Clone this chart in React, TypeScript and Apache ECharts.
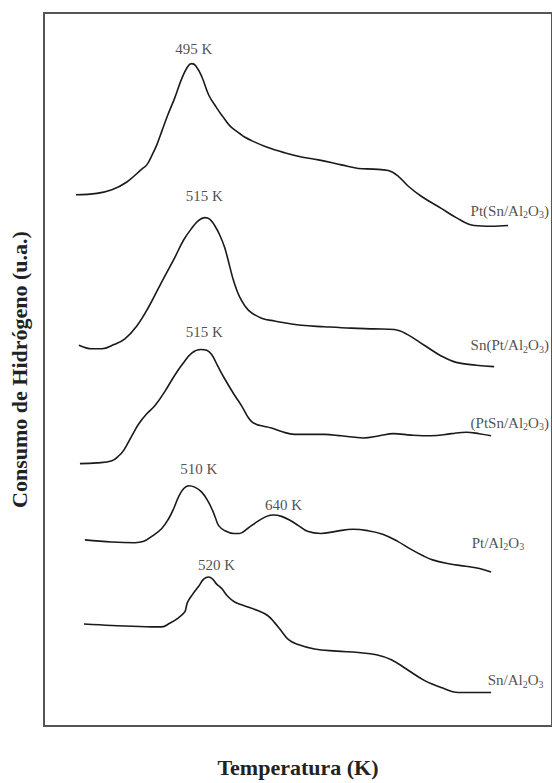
import React, { useEffect, useRef } from "react";
import * as echarts from "echarts";

// Temperature (K, arbitrary mapping, no ticks shown) and H2 consumption (u.a.)
const tempPtSnAl = [346.2, 376.5, 398.2, 419.9, 441.5, 448.7, 456.0, 463.2, 470.4, 479.1, 489.2, 499.3, 508.0, 513.7, 519.5, 528.2, 538.3, 549.8, 558.5, 568.6, 575.8, 583.0, 590.2, 600.4, 622.0, 648.0, 672.6, 697.1, 730.3, 754.9, 776.5, 798.2, 812.6, 827.1, 845.8, 874.7, 896.4, 922.4, 946.9, 971.5];
const h2PtSnAl = [74.5, 74.7, 75.2, 76.3, 78.1, 78.7, 80.0, 81.5, 83.4, 85.7, 88.1, 90.8, 92.5, 92.9, 92.6, 91.1, 88.5, 86.7, 85.5, 84.2, 83.6, 83.1, 82.6, 82.1, 81.2, 80.4, 79.8, 79.4, 78.7, 78.2, 78.1, 77.9, 77.1, 75.7, 74.3, 72.6, 71.3, 70.2, 70.1, 70.2];

const tempSnPtAl = [350.5, 369.3, 383.8, 401.1, 417.0, 434.3, 451.6, 470.4, 489.2, 502.2, 513.7, 523.8, 532.5, 539.7, 546.9, 554.1, 561.4, 568.6, 574.4, 583.0, 596.0, 614.8, 633.6, 672.6, 705.8, 744.8, 778.0, 806.8, 824.2, 850.2, 874.7, 896.4, 925.3, 951.2];
const h2SnPtAl = [53.4, 52.9, 52.9, 53.5, 54.3, 56.1, 58.8, 62.3, 65.7, 68.2, 69.8, 70.9, 71.3, 71.1, 70.2, 68.9, 67.1, 64.5, 62.4, 60.2, 58.3, 57.2, 56.8, 56.2, 56.0, 55.8, 55.7, 55.6, 55.0, 53.4, 51.9, 51.0, 50.6, 50.4];

const tempPtSnCo = [352.0, 376.5, 398.2, 408.3, 415.5, 427.1, 437.2, 448.7, 460.3, 474.7, 489.2, 500.7, 513.7, 526.7, 535.4, 542.6, 551.3, 561.4, 574.4, 585.9, 594.6, 600.4, 607.7, 614.8, 629.2, 643.7, 662.4, 684.1, 705.8, 730.3, 762.1, 785.2, 805.4, 831.4, 860.3, 889.2, 910.8, 929.6, 946.9];
const h2PtSnCo = [36.8, 36.9, 37.2, 37.9, 38.7, 40.7, 42.4, 43.8, 44.9, 46.9, 49.2, 50.8, 52.3, 52.8, 52.7, 52.1, 50.5, 48.7, 46.6, 44.9, 43.4, 42.7, 42.3, 42.1, 41.8, 41.3, 40.9, 40.9, 40.9, 40.7, 40.4, 40.7, 41.0, 40.8, 40.7, 41.0, 41.2, 41.0, 40.7];

const tempPtAl = [359.2, 398.2, 431.4, 444.4, 456.0, 470.4, 480.5, 487.7, 495.0, 502.2, 509.4, 518.1, 528.2, 536.8, 544.0, 548.4, 552.7, 561.4, 574.4, 583.0, 594.6, 609.0, 622.0, 632.1, 643.7, 655.2, 668.2, 681.2, 700.5, 722.2, 746.7, 768.4, 790.0, 811.7, 830.5, 847.8, 862.2, 883.9, 909.9, 930.1, 946.9];
const h2PtAl = [26.1, 25.8, 25.7, 25.9, 26.6, 27.7, 29.1, 30.5, 32.2, 33.3, 33.7, 33.5, 32.8, 31.6, 30.2, 29.1, 28.1, 27.4, 27.0, 27.0, 27.7, 28.7, 29.4, 29.6, 29.4, 28.9, 28.1, 27.3, 27.0, 27.3, 27.6, 27.4, 26.9, 25.9, 24.8, 23.9, 23.3, 22.8, 22.4, 22.1, 21.6];

const tempSnAl = [357.8, 398.2, 456.0, 470.4, 481.9, 493.5, 503.6, 505.8, 507.9, 515.2, 523.8, 531.0, 538.3, 544.0, 549.8, 557.0, 565.7, 575.8, 588.8, 609.0, 623.5, 633.6, 643.7, 653.8, 665.3, 691.3, 723.1, 754.9, 780.9, 802.5, 824.2, 850.2, 874.7, 899.3, 925.3, 946.9];
const h2SnAl = [14.3, 14.1, 13.9, 13.9, 14.4, 15.1, 16.0, 16.7, 17.4, 18.5, 19.6, 20.6, 20.9, 20.6, 19.9, 19.3, 18.2, 17.4, 16.9, 16.2, 15.5, 14.5, 13.3, 12.1, 11.5, 10.8, 10.5, 10.3, 10.0, 9.3, 8.0, 6.4, 5.4, 4.7, 4.7, 4.7];

// Peak annotations
const peakTexts = ["495 K", "515 K", "515 K", "510 K", "640 K", "520 K"];
const peakTextT = [516.6, 531.8, 531.8, 523.8, 646.6, 549.8];
const peakTextV = [94.9, 74.3, 55.3, 36.1, 31.0, 22.6];

// Sample names (rich text with subscripts)
const sampleNames = [
  "Pt(Sn/Al{s|2}O{s|3})",
  "Sn(Pt/Al{s|2}O{s|3})",
  "(PtSn/Al{s|2}O{s|3})",
  "Pt/Al{s|2}O{s|3}",
  "Sn/Al{s|2}O{s|3}",
];
const sampleNameT = [916.5, 916.5, 916.5, 918.0, 941.2];
const sampleNameV = [72.3, 53.4, 42.5, 25.7, 6.4];

const curves = [
  [tempPtSnAl, h2PtSnAl],
  [tempSnPtAl, h2SnPtAl],
  [tempPtSnCo, h2PtSnCo],
  [tempPtAl, h2PtAl],
  [tempSnAl, h2SnAl],
];

const SERIF = "'Liberation Serif', 'Times New Roman', serif";

export default function App() {
  const ref = useRef<HTMLDivElement>(null);
  useEffect(() => {
    if (!ref.current) return;
    const chart = echarts.init(ref.current, undefined, { renderer: "svg" });
    const lineSeries = curves.map((c, i) => ({
      type: "line",
      name: "c" + i,
      data: c[0].map((t, j) => [t, c[1][j]]),
      smooth: 0.4,
      symbol: "none",
      lineStyle: { color: "#1a1a1a", width: 1.6 },
      silent: true,
    }));
    const peakSeries = {
      type: "scatter",
      symbol: "circle",
      symbolSize: 1,
      itemStyle: { color: "rgba(0,0,0,0)" },
      silent: true,
      data: peakTexts.map((t, i) => ({
        value: [peakTextT[i], peakTextV[i]],
        name: t,
      })),
      label: {
        show: true,
        position: "inside",
        formatter: "{b}",
        fontFamily: SERIF,
        fontSize: 15,
        color: "#222",
      },
    };
    const nameSeries = {
      type: "scatter",
      symbol: "circle",
      symbolSize: 1,
      itemStyle: { color: "rgba(0,0,0,0)" },
      silent: true,
      data: sampleNames.map((t, i) => ({
        value: [sampleNameT[i], sampleNameV[i]],
        name: t,
      })),
      label: {
        show: true,
        position: "right",
        distance: 0,
        formatter: "{b}",
        fontFamily: SERIF,
        fontSize: 15,
        color: "#222",
        rich: {
          s: {
            fontFamily: SERIF,
            fontSize: 10,
            color: "#222",
            verticalAlign: "bottom",
            padding: [8, 0, 0, 0],
          },
        },
      },
    };
    chart.setOption({
      animation: false,
      backgroundColor: "#ffffff",
      grid: {
        left: 42,
        top: 13,
        right: -6,
        bottom: 41,
        show: true,
        borderColor: "#555",
        borderWidth: 2,
        backgroundColor: "transparent",
      },
      xAxis: {
        type: "value",
        min: 300,
        max: 1035,
        axisLine: { show: false },
        axisTick: { show: false },
        axisLabel: { show: false },
        splitLine: { show: false },
        name: "Temperatura (K)",
        nameLocation: "middle",
        nameGap: 30,
        nameTextStyle: { fontFamily: SERIF, fontWeight: "bold", fontSize: 22, color: "#222" },
      },
      yAxis: {
        type: "value",
        min: 0,
        max: 100,
        axisLine: { show: false },
        axisTick: { show: false },
        axisLabel: { show: false },
        splitLine: { show: false },
        name: "Consumo de Hidrógeno (u.a.)",
        nameLocation: "middle",
        nameGap: 14,
        nameTextStyle: { fontFamily: SERIF, fontWeight: "bold", fontSize: 22, color: "#222" },
      },
      series: [...lineSeries, peakSeries, nameSeries],
    });
    return () => chart.dispose();
  }, []);
  return (
    <div
      ref={ref}
      style={{ position: "fixed", left: 0, top: 0, width: 552, height: 783, background: "#fff" }}
    />
  );
}
